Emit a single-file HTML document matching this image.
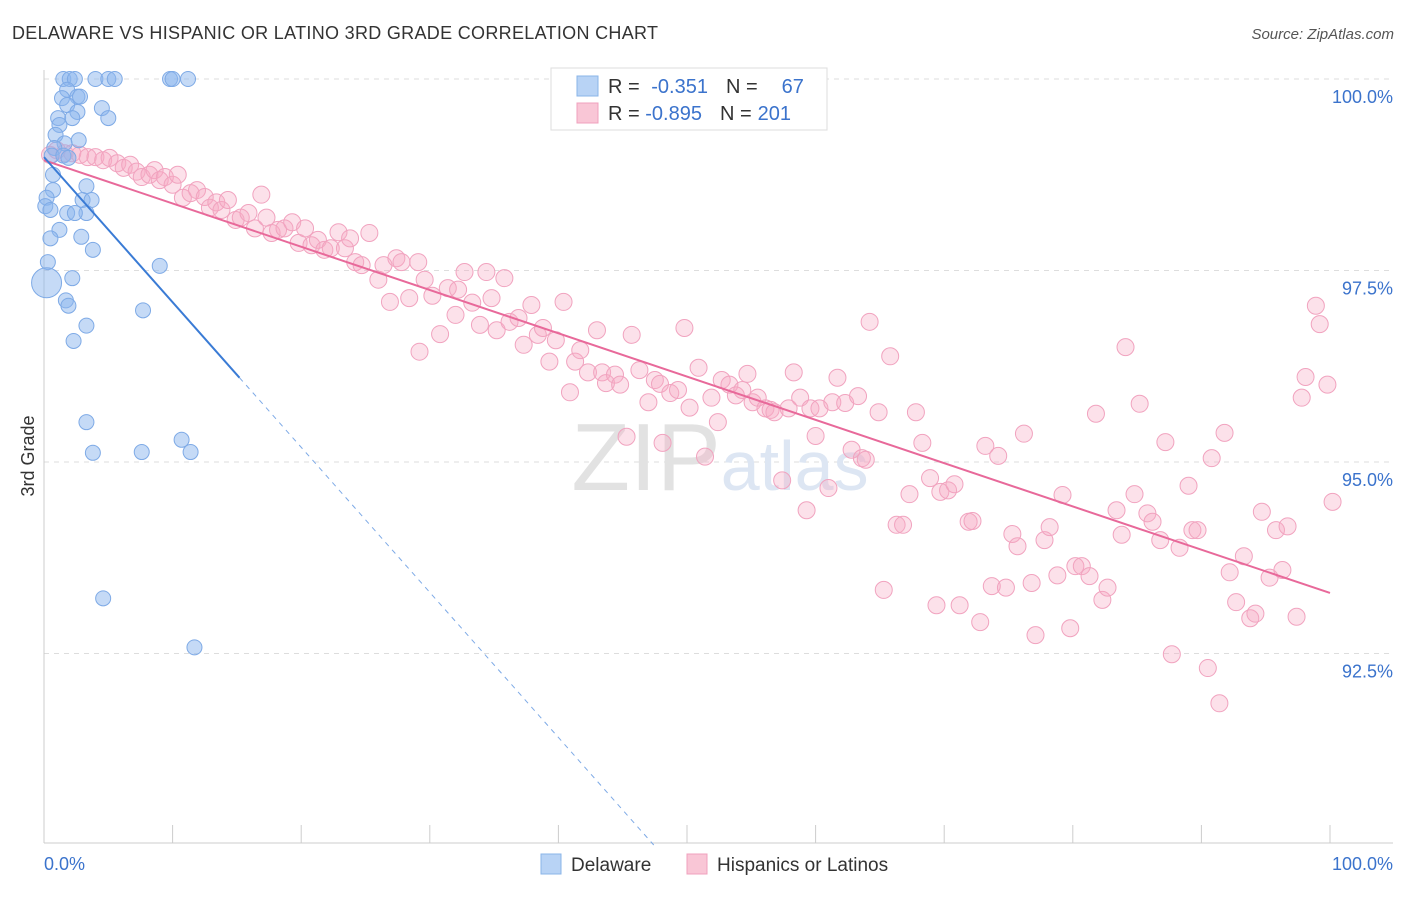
<!DOCTYPE html>
<html><head><meta charset="utf-8"><style>
body{margin:0;background:#fff;font-family:"Liberation Sans",sans-serif;}
svg text{font-family:"Liberation Sans",sans-serif;}
</style></head><body>
<svg id="chart" width="1406" height="892">
<text x="12" y="39" font-size="18" fill="#333" textLength="646">DELAWARE VS HISPANIC OR LATINO 3RD GRADE CORRELATION CHART</text>
<text x="1394" y="39" font-size="15" fill="#555" text-anchor="end" font-style="italic">Source: ZipAtlas.com</text>
<text x="34" y="456" font-size="18" fill="#333" transform="rotate(-90 34 456)" text-anchor="middle">3rd Grade</text>
<g id="grid"></g>
<text x="720" y="490" font-size="96" fill="#e2e2e2" text-anchor="middle" font-family="Liberation Serif">ZIP<tspan fill="#dde6f3" font-family="Liberation Sans" font-size="70">atlas</tspan></text>
<g id="marks"></g>
<g>
<rect x="551" y="68" width="276" height="62" fill="#fff" stroke="#ddd"/>
<rect x="577" y="76" width="21" height="20" fill="#b8d3f5" stroke="#8ab4e8"/>
<rect x="577" y="103" width="21" height="20" fill="#f9c6d6" stroke="#f0a0bd"/>
<text x="608" y="93" font-size="20" fill="#333">R = <tspan fill="#3b73cc" dx="6">-0.351</tspan><tspan fill="#333" dx="18">N =</tspan><tspan fill="#3b73cc" dx="24">67</tspan></text>
<text x="608" y="120" font-size="20" fill="#333">R = <tspan fill="#3b73cc">-0.895</tspan><tspan fill="#333" dx="18">N =</tspan><tspan fill="#3b73cc" dx="6">201</tspan></text>
</g>
<g>
<rect x="541" y="854" width="20" height="20" fill="#b8d3f5" stroke="#8ab4e8"/>
<text x="571" y="871" font-size="19" fill="#333">Delaware</text>
<rect x="687" y="854" width="20" height="20" fill="#f9c6d6" stroke="#f0a0bd"/>
<text x="717" y="871" font-size="19" fill="#333">Hispanics or Latinos</text>
</g>
</svg>
<script>
const yTicks=[100,97.5,95,92.5];
const yTickLabels=["100.0%","97.5%","95.0%","92.5%"];
const xTickVals=[0,10,20,30,40,50,60,70,80,90,100];
const xEndLabels=["0.0%","100.0%"];
const blueX=[1.5,2.0,2.4,4.0,5.0,5.5,9.8,10.0,11.2,1.8,1.4,2.6,2.8,1.8,4.5,2.6,5.0,1.1,1.2,2.2,0.9,2.7,1.6,0.8,0.6,1.5,1.9,0.7,0.7,3.3,0.2,3.0,3.7,0.1,0.5,1.8,3.3,2.4,1.2,0.5,2.9,3.8,0.3,9.0,2.2,1.7,1.9,7.7,3.3,2.3,3.3,10.7,3.8,7.6,11.4,4.6,11.7];
const blueY=[100,100,100,100,100,100,100,100,100,99.86,99.75,99.77,99.77,99.66,99.62,99.57,99.49,99.49,99.4,99.49,99.27,99.2,99.16,99.1,99.0,99.0,98.97,98.75,98.55,98.6,98.45,98.42,98.42,98.34,98.29,98.25,98.25,98.25,98.03,97.92,97.94,97.77,97.61,97.56,97.4,97.11,97.04,96.98,96.78,96.58,95.52,95.29,95.12,95.13,95.13,93.22,92.58];
const blueBig=[[0.2,97.34]];
const pinkX=[0.47,1.0,1.6,2.2,2.8,3.4,4.0,4.6,5.1,5.7,6.2,6.7,7.2,7.6,8.2,8.6,9.0,9.4,10.0,10.4,10.8,11.4,11.9,12.5,12.9,13.4,13.8,14.3,14.9,15.3,15.9,16.4,16.9,17.3,17.7,18.2,18.7,19.3,19.8,20.3,20.8,21.3,21.8,22.3,22.9,23.4,23.8,24.2,24.7,25.3,26.0,26.4,26.9,27.4,27.8,28.4,29.1,29.2,29.6,30.2,30.8,31.4,32.0,32.2,32.7,33.3,33.9,34.4,34.8,35.2,35.8,36.2,36.9,37.3,37.9,38.4,38.8,39.3,39.8,40.4,40.9,41.3,41.7,42.3,43.0,43.4,43.7,44.4,44.8,45.3,45.7,46.3,47.0,47.5,47.9,48.1,48.7,49.3,49.8,50.2,50.9,51.4,51.9,52.4,52.7,53.3,53.8,54.3,54.7,55.1,55.5,56.1,56.5,56.8,57.4,57.9,58.3,58.8,59.3,59.6,60.0,60.3,61.0,61.3,61.7,62.3,62.8,63.3,63.6,63.9,64.2,64.9,65.3,65.8,66.3,66.8,67.3,67.8,68.3,68.9,69.4,69.7,70.3,70.8,71.2,71.9,72.2,72.8,73.2,73.7,74.2,74.8,75.3,75.7,76.2,76.8,77.1,77.8,78.2,78.8,79.2,79.8,80.2,80.7,81.3,81.8,82.3,82.7,83.4,83.8,84.1,84.8,85.2,85.8,86.2,86.8,87.2,87.7,88.3,89.0,89.3,89.7,90.5,90.8,91.4,91.8,92.2,92.7,93.3,93.8,94.2,94.7,95.3,95.8,96.3,96.7,97.4,97.8,98.1,98.9,99.2,99.8,100.2];
const pinkY=[99.01,99.07,99.03,99.03,99.01,98.98,98.98,98.94,98.97,98.90,98.84,98.88,98.79,98.72,98.75,98.81,98.68,98.72,98.62,98.75,98.45,98.51,98.55,98.46,98.32,98.39,98.29,98.42,98.16,98.19,98.25,98.05,98.49,98.19,97.99,98.03,98.05,98.13,97.86,98.05,97.83,97.90,97.77,97.79,98.00,97.79,97.92,97.61,97.57,97.99,97.38,97.57,97.09,97.66,97.61,97.14,97.61,96.44,97.38,97.17,96.67,97.27,96.92,97.25,97.48,97.08,96.79,97.48,97.14,96.72,97.40,96.83,96.88,96.53,97.05,96.66,96.75,96.31,96.59,97.09,95.91,96.31,96.46,96.17,96.72,96.17,96.03,96.14,96.01,95.33,96.66,96.20,95.78,96.07,96.02,95.25,95.90,95.94,96.75,95.71,96.23,95.07,95.84,95.52,96.07,96.01,95.87,95.94,96.15,95.78,95.84,95.70,95.68,95.65,94.76,95.70,96.17,95.84,94.37,95.70,95.34,95.70,94.66,95.78,96.10,95.77,95.16,95.86,95.05,95.03,96.83,95.65,93.33,96.38,94.18,94.18,94.58,95.65,95.25,94.79,93.13,94.61,94.63,94.71,93.13,94.22,94.23,92.91,95.21,93.38,95.08,93.36,94.06,93.90,95.37,93.42,92.74,93.98,94.15,93.52,94.57,92.83,93.64,93.64,93.51,95.63,93.20,93.36,94.37,94.05,96.50,94.58,95.76,94.33,94.22,93.98,95.26,92.49,93.88,94.69,94.11,94.11,92.31,95.05,91.85,95.38,93.56,93.17,93.77,92.96,93.02,94.35,93.49,94.11,93.59,94.16,92.98,95.84,96.11,97.04,96.80,96.01,94.48];
const blueTrend=[98.98,-0.1894];
const blueTrendSolidEnd=15.2;
const pinkTrend=[98.94,-0.0565];

const NS="http://www.w3.org/2000/svg";
const X0=44,X1=1330,Y100=79,PXPER=76.6;
const sx=v=>X0+(X1-X0)*v/100;
const sy=v=>Y100+(100-v)*PXPER;
const grid=document.getElementById('grid'),marks=document.getElementById('marks');
function mk(tag,attrs,parent){const e=document.createElementNS(NS,tag);for(const k in attrs)e.setAttribute(k,attrs[k]);parent.appendChild(e);return e;}
yTicks.forEach((t,i)=>{
 const l=mk('line',{x1:X0,x2:1393,y1:sy(t),y2:sy(t),stroke:'#ddd','stroke-dasharray':'5,5'},grid);
 
 
 const tx=mk('text',{x:1393,y:sy(t)+24,'font-size':18,fill:'#3b73cc','text-anchor':'end'},grid);
 tx.textContent=yTickLabels[i];
 
 
});
const ax=mk('line',{x1:X0,x2:X0,y1:70,y2:843,stroke:'#ccc'},grid);


const bx=mk('line',{x1:X0,x2:1393,y1:843,y2:843,stroke:'#ccc'},grid);


xTickVals.forEach(v=>{
 const t=mk('line',{x1:sx(v),x2:sx(v),y1:825,y2:843,stroke:'#ccc'},grid);
 
 
});
const xl0=mk('text',{x:44,y:870,'font-size':18,fill:'#3b73cc'},grid);xl0.textContent=xEndLabels[0];


const xl1=mk('text',{x:1393,y:870,'font-size':18,fill:'#3b73cc','text-anchor':'end'},grid);xl1.textContent=xEndLabels[1];



pinkX.forEach((x,i)=>{
 const c=mk('circle',{cx:sx(x),cy:sy(pinkY[i]),r:8.5,fill:'rgba(246,170,196,0.35)',stroke:'#f1a3bf','stroke-width':1},marks);
 
 
});
blueX.forEach((x,i)=>{
 const c=mk('circle',{cx:sx(x),cy:sy(blueY[i]),r:7.5,fill:'rgba(140,182,238,0.5)',stroke:'#7eaae6','stroke-width':1},marks);
 
 
});
blueBig.forEach(p=>{
 const c=mk('circle',{cx:sx(p[0]),cy:sy(p[1]),r:15,fill:'rgba(140,182,238,0.5)',stroke:'#7eaae6'},marks);
 
 
});
const pl=mk('line',{x1:sx(0),y1:sy(pinkTrend[0]),x2:sx(100),y2:sy(pinkTrend[0]+pinkTrend[1]*100),stroke:'#e8699a','stroke-width':2},marks);


const bl=mk('line',{x1:sx(0),y1:sy(blueTrend[0]),x2:sx(blueTrendSolidEnd),y2:sy(blueTrend[0]+blueTrend[1]*blueTrendSolidEnd),stroke:'#3a7bd5','stroke-width':2},marks);


const xe=(blueTrend[0]-90)/-blueTrend[1];
const bd=mk('line',{x1:sx(blueTrendSolidEnd),y1:sy(blueTrend[0]+blueTrend[1]*blueTrendSolidEnd),x2:sx(xe),y2:sy(90),stroke:'#7eaae6','stroke-width':1,'stroke-dasharray':'5,5'},marks);


</script>
</body></html>
